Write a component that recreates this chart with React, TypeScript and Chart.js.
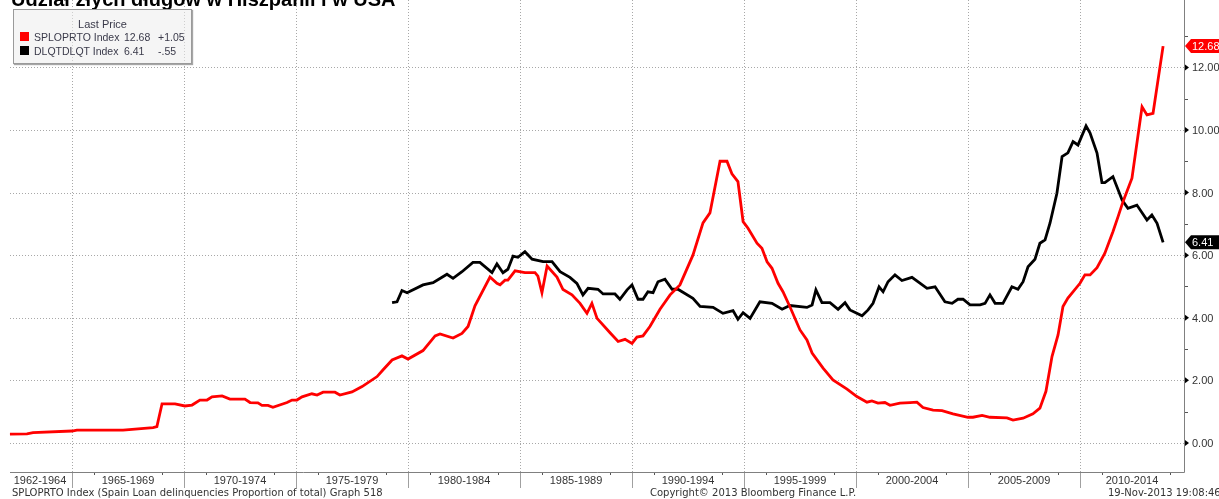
import React, { useEffect, useRef } from 'react';
import { Chart, registerables } from 'chart.js';

Chart.register(...registerables);

const TITLE = 'Udział złych długów w Hiszpanii i w USA';
const periodLabels = ['1962-1964', '1965-1969', '1970-1974', '1975-1979', '1980-1984', '1985-1989', '1990-1994', '1995-1999', '2000-2004', '2005-2009', '2010-2014'];
const periodStarts = [1962, 1965, 1970, 1975, 1980, 1985, 1990, 1995, 2000, 2005, 2010];
const periodEnds = [1965, 1970, 1975, 1980, 1985, 1990, 1995, 2000, 2005, 2010, 2015];
const yTickValues = [0, 2, 4, 6, 8, 10, 12];
const yMinorValues = [1, 3, 5, 7, 9, 11, 13];

const splYears = [1962.23, 1962.99, 1963.26, 1965.0, 1965.22, 1967.28, 1968.62, 1968.79, 1969.02, 1969.6,
  1970.04, 1970.36, 1970.71, 1971.03, 1971.25, 1971.7, 1972.05, 1972.72, 1972.95, 1973.3,
  1973.48, 1973.75, 1973.97, 1974.6, 1974.82, 1975.04, 1975.27, 1975.71, 1975.94, 1976.21,
  1976.74, 1976.96, 1977.5, 1977.95, 1978.62, 1978.88, 1979.29, 1979.73, 1980.0, 1980.67,
  1981.21, 1981.43, 1982.01, 1982.41, 1982.68, 1982.99, 1983.66, 1983.97, 1984.11, 1984.33,
  1984.46, 1984.78, 1985.22, 1985.67, 1985.8, 1985.98, 1986.21, 1986.65, 1986.92, 1987.32,
  1987.68, 1987.99, 1988.21, 1988.44, 1989.02, 1989.38, 1989.69, 1990.0, 1990.22, 1990.49,
  1990.8, 1991.25, 1991.7, 1992.14, 1992.72, 1993.17, 1993.48, 1993.93, 1994.24, 1994.46,
  1994.73, 1994.96, 1995.18, 1995.58, 1995.8, 1996.03, 1996.25, 1996.52, 1996.74, 1997.05,
  1997.5, 1997.81, 1998.04, 1998.53, 1998.97, 1999.6, 2000.04, 2000.49, 2000.71, 2000.98,
  2001.29, 2001.52, 2001.96, 2002.41, 2002.72, 2002.99, 2003.44, 2003.84, 2004.33, 2005.0,
  2005.22, 2005.63, 2005.98, 2006.74, 2007.01, 2007.46, 2007.9, 2008.21, 2008.48, 2008.75,
  2009.02, 2009.24, 2009.46, 2010.0, 2010.22, 2010.45, 2010.76, 2011.11, 2011.47, 2011.7,
  2011.92, 2012.32, 2012.77, 2012.99, 2013.26, 2013.71];
const splValues = [0.28, 0.29, 0.33, 0.38, 0.41, 0.41, 0.49, 0.52, 1.25, 1.25,
  1.18, 1.21, 1.37, 1.37, 1.47, 1.5, 1.4, 1.4, 1.29, 1.28,
  1.2, 1.2, 1.14, 1.29, 1.37, 1.37, 1.47, 1.57, 1.53, 1.62,
  1.62, 1.53, 1.63, 1.8, 2.12, 2.33, 2.65, 2.78, 2.68, 2.95,
  3.42, 3.48, 3.35, 3.5, 3.72, 4.38, 5.3, 5.1, 5.05, 5.2,
  5.2, 5.5, 5.44, 5.44, 5.33, 4.8, 5.65, 5.3, 4.9, 4.73,
  4.46, 4.14, 4.46, 3.98, 3.52, 3.24, 3.31, 3.18, 3.38, 3.42,
  3.72, 4.27, 4.73, 5.05, 6.0, 7.03, 7.35, 9.0, 9.0, 8.6,
  8.35, 7.07, 6.86, 6.38, 6.22, 5.79, 5.58, 5.1, 4.83, 4.35,
  3.61, 3.29, 2.87, 2.39, 2.01, 1.72, 1.48, 1.3, 1.34, 1.27,
  1.29, 1.2, 1.27, 1.29, 1.3, 1.13, 1.05, 1.03, 0.93, 0.82,
  0.82, 0.88, 0.82, 0.8, 0.73, 0.79, 0.93, 1.11, 1.65, 2.76,
  3.45, 4.36, 4.63, 5.1, 5.37, 5.37, 5.6, 6.06, 6.75, 7.23,
  7.71, 8.46, 10.74, 10.48, 10.53, 12.68];

const dlqYears = [1979.29, 1979.51, 1979.73, 1979.96, 1980.67, 1981.12, 1981.74, 1982.01, 1982.41, 1982.9,
  1983.21, 1983.75, 1983.97, 1984.24, 1984.46, 1984.69, 1984.91, 1985.22, 1985.54, 1986.03,
  1986.43, 1986.79, 1987.23, 1987.54, 1987.81, 1988.04, 1988.48, 1988.71, 1989.24, 1989.46,
  1989.78, 1990.0, 1990.27, 1990.49, 1990.71, 1990.94, 1991.16, 1991.47, 1991.79, 1992.05,
  1992.72, 1993.04, 1993.62, 1994.06, 1994.51, 1994.73, 1994.96, 1995.27, 1995.71, 1996.25,
  1996.7, 1997.05, 1997.81, 1998.04, 1998.21, 1998.48, 1998.84, 1999.2, 1999.51, 1999.73,
  2000.27, 2000.54, 2000.76, 2001.03, 2001.21, 2001.43, 2001.74, 2002.05, 2002.5, 2003.17,
  2003.53, 2003.97, 2004.29, 2004.55, 2004.78, 2005.09, 2005.54, 2005.76, 2005.98, 2006.21,
  2006.56, 2006.96, 2007.23, 2007.46, 2007.68, 2007.99, 2008.21, 2008.44, 2008.66, 2008.97,
  2009.2, 2009.46, 2009.69, 2009.91, 2010.27, 2010.45, 2010.76, 2010.98, 2011.11, 2011.47,
  2011.88, 2012.14, 2012.54, 2012.99, 2013.21, 2013.44, 2013.71];
const dlqValues = [4.48, 4.51, 4.87, 4.8, 5.05, 5.12, 5.39, 5.26, 5.47, 5.77,
  5.77, 5.44, 5.72, 5.44, 5.55, 5.97, 5.93, 6.11, 5.87, 5.79,
  5.79, 5.47, 5.29, 5.1, 4.73, 4.94, 4.91, 4.76, 4.76, 4.59,
  4.89, 5.05, 4.59, 4.59, 4.83, 4.8, 5.15, 5.23, 4.91, 4.91,
  4.62, 4.36, 4.33, 4.14, 4.23, 3.95, 4.16, 3.98, 4.51, 4.46,
  4.27, 4.39, 4.33, 4.41, 4.89, 4.48, 4.48, 4.27, 4.48, 4.25,
  4.06, 4.25, 4.46, 4.99, 4.83, 5.15, 5.37, 5.19, 5.29, 4.94,
  4.99, 4.51, 4.46, 4.59, 4.59, 4.41, 4.41, 4.46, 4.73, 4.46,
  4.46, 4.99, 4.91, 5.15, 5.63, 5.87, 6.38, 6.49, 7.02, 7.98,
  9.15, 9.27, 9.63, 9.52, 10.13, 9.9, 9.26, 8.32, 8.32, 8.51,
  7.76, 7.5, 7.6, 7.12, 7.28, 7.02, 6.41];

const legendRows = [
  { name: 'SPLOPRTO Index', last: '12.68', change: '+1.05', color: '#ff0000' },
  { name: 'DLQTDLQT Index', last: '6.41', change: '-.55', color: '#000000' },
];
const splLast = 12.68;
const dlqLast = 6.41;
const FOOT_LEFT = 'SPLOPRTO Index (Spain Loan delinquencies Proportion of total) Graph 518';
const FOOT_MID = 'Copyright© 2013 Bloomberg Finance L.P.';
const FOOT_RIGHT = '19-Nov-2013 19:08:46';

const FONT = '"Liberation Sans", Arial, sans-serif';
const FOOT_FONT = '"DejaVu Sans", "Liberation Sans", sans-serif';
const W = 1219;
const H = 499;

const bbgPlugin = {
  id: 'bbgAxes',
  beforeDatasetsDraw(chart: any) {
    const { ctx, chartArea, scales } = chart;
    const x = scales.x;
    const y = scales.y;
    const left = chartArea.left;
    const right = chartArea.right;
    const bottom = chartArea.bottom;
    ctx.save();
    ctx.strokeStyle = '#a8a8a8';
    ctx.lineWidth = 1;
    ctx.setLineDash([1, 2]);
    for (const v of yTickValues) {
      const py = Math.round(y.getPixelForValue(v)) + 0.5;
      ctx.beginPath();
      ctx.moveTo(left + 2, py);
      ctx.lineTo(right, py);
      ctx.stroke();
    }
    for (const s of periodStarts.slice(1)) {
      const px = Math.round(x.getPixelForValue(s)) + 0.5;
      ctx.beginPath();
      ctx.moveTo(px, 0);
      ctx.lineTo(px, bottom);
      ctx.stroke();
    }
    ctx.setLineDash([]);
    ctx.strokeStyle = '#a0a0a0';
    for (const s of periodStarts.slice(1)) {
      const px = Math.round(x.getPixelForValue(s)) + 0.5;
      ctx.beginPath();
      ctx.moveTo(px, bottom);
      ctx.lineTo(px, bottom + 16);
      ctx.stroke();
    }
    ctx.strokeStyle = '#555';
    for (const s of periodStarts.slice(1)) {
      for (const off of [1, 4]) {
        const px = Math.round(x.getPixelForValue(s + off)) + 0.5;
        if (px > right) continue;
        ctx.beginPath();
        ctx.moveTo(px, bottom);
        ctx.lineTo(px, bottom + 3);
        ctx.stroke();
      }
    }
    ctx.strokeStyle = '#808080';
    ctx.beginPath();
    ctx.moveTo(left + 2, bottom + 0.5);
    ctx.lineTo(right + 0.5, bottom + 0.5);
    ctx.moveTo(right + 0.5, 0);
    ctx.lineTo(right + 0.5, bottom + 0.5);
    ctx.stroke();
    ctx.strokeStyle = '#555';
    for (const v of yMinorValues) {
      const py = Math.round(y.getPixelForValue(v)) + 0.5;
      ctx.beginPath();
      ctx.moveTo(right + 1, py);
      ctx.lineTo(right + 4, py);
      ctx.stroke();
    }
    ctx.font = '11px ' + FONT;
    ctx.textBaseline = 'middle';
    ctx.textAlign = 'left';
    for (const v of yTickValues) {
      const py = y.getPixelForValue(v);
      ctx.fillStyle = '#000';
      ctx.beginPath();
      ctx.moveTo(right + 1, py - 3);
      ctx.lineTo(right + 5, py);
      ctx.lineTo(right + 1, py + 3);
      ctx.closePath();
      ctx.fill();
      ctx.fillStyle = '#333';
      ctx.fillText(v.toFixed(2), right + 8, py + 1);
    }
    ctx.textAlign = 'center';
    for (let i = 0; i < periodLabels.length; i++) {
      const a = Math.max(x.getPixelForValue(periodStarts[i]), left);
      const b = Math.min(x.getPixelForValue(periodEnds[i]), right);
      ctx.fillStyle = '#333';
      ctx.fillText(periodLabels[i], (a + b) / 2, bottom + 9);
    }
    ctx.restore();
  },
  afterDatasetsDraw(chart: any) {
    const { ctx, chartArea, scales } = chart;
    const y = scales.y;
    const right = chartArea.right;
    ctx.save();
    ctx.font = '11px ' + FONT;
    ctx.textBaseline = 'middle';
    ctx.textAlign = 'left';
    const tags = [
      { v: splLast, bg: '#ff0000' },
      { v: dlqLast, bg: '#000000' },
    ];
    for (const t of tags) {
      const py = y.getPixelForValue(t.v);
      ctx.fillStyle = t.bg;
      ctx.beginPath();
      ctx.moveTo(right + 1, py);
      ctx.lineTo(right + 7, py - 7);
      ctx.lineTo(W, py - 7);
      ctx.lineTo(W, py + 7);
      ctx.lineTo(right + 7, py + 7);
      ctx.closePath();
      ctx.fill();
      ctx.fillStyle = '#fff';
      ctx.fillText(t.v.toFixed(2), right + 8, py + 1);
    }
    ctx.restore();
  },
};

export default function App() {
  const ref = useRef<HTMLCanvasElement | null>(null);
  useEffect(() => {
    if (!ref.current) return;
    const chart = new Chart(ref.current, {
      type: 'line',
      data: {
        datasets: [
          {
            label: 'SPLOPRTO Index',
            data: splYears.map((yr, i) => ({ x: yr, y: splValues[i] })),
            borderColor: '#ff0000',
            borderWidth: 2.8,
            pointRadius: 0,
            tension: 0,
            fill: false,
          },
          {
            label: 'DLQTDLQT Index',
            data: dlqYears.map((yr, i) => ({ x: yr, y: dlqValues[i] })),
            borderColor: '#000000',
            borderWidth: 2.8,
            pointRadius: 0,
            tension: 0,
            fill: false,
          },
        ],
      },
      options: {
        responsive: false,
        animation: false,
        devicePixelRatio: 1,
        layout: { padding: { left: 8, top: 2, right: 35, bottom: 27 } },
        plugins: { legend: { display: false }, tooltip: { enabled: false } },
        scales: {
          x: { type: 'linear', display: false, min: 1962.143, max: 2014.643 },
          y: { type: 'linear', display: false, min: -0.93, max: 14.09 },
        },
      },
      plugins: [bbgPlugin],
    });
    return () => chart.destroy();
  }, []);

  const txt: React.CSSProperties = { position: 'absolute', whiteSpace: 'nowrap', fontFamily: FONT, color: '#333' };
  const foot: React.CSSProperties = { ...txt, fontFamily: FOOT_FONT, top: 487, fontSize: 10, lineHeight: '12px' };

  return (
    <div style={{ position: 'absolute', left: 0, top: 0, width: W, height: H, overflow: 'hidden', background: '#fff' }}>
      <canvas ref={ref} width={W} height={H} style={{ position: 'absolute', left: 0, top: 0, width: W, height: H }} />
      <div style={{ ...txt, left: 11, top: -11, fontSize: 20, lineHeight: '20px', fontWeight: 'bold', color: '#000' }}>{TITLE}</div>
      <div style={{ position: 'absolute', left: 13, top: 9, width: 177, height: 53, border: '1px solid #9a9a9a', background: 'rgba(236,236,236,0.55)', boxShadow: '1px 1px 1px rgba(0,0,0,0.35)' }}>
        <div style={{ ...txt, left: 0, width: 177, top: 7, textAlign: 'center', fontSize: 11, lineHeight: '14px', color: '#3a3a4a' }}>Last Price</div>
        {legendRows.map((r, i) => (
          <React.Fragment key={r.name}>
            <div style={{ position: 'absolute', left: 6, top: 22 + i * 14, width: 9, height: 9, background: r.color }} />
            <div style={{ ...txt, left: 20, top: 20 + i * 14, fontSize: 10.5, lineHeight: '14px', color: '#3a3a4a' }}>{r.name}</div>
            <div style={{ ...txt, left: 110, top: 20 + i * 14, fontSize: 10.5, lineHeight: '14px', color: '#3a3a4a' }}>{r.last}</div>
            <div style={{ ...txt, left: 144, top: 20 + i * 14, fontSize: 10.5, lineHeight: '14px', color: '#3a3a4a' }}>{r.change}</div>
          </React.Fragment>
        ))}
      </div>
      <div style={{ ...foot, left: 12 }}>{FOOT_LEFT}</div>
      <div style={{ ...foot, left: 650 }}>{FOOT_MID}</div>
      <div style={{ ...foot, left: 1108 }}>{FOOT_RIGHT}</div>
    </div>
  );
}
